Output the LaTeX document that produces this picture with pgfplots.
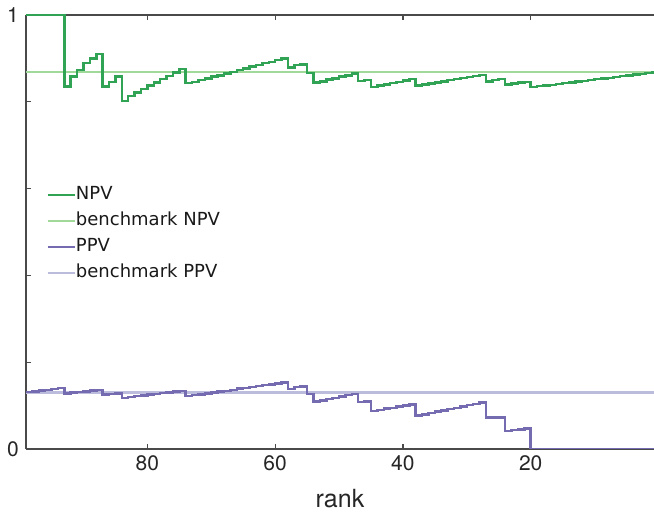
\documentclass[border=0pt]{standalone}
\usepackage{fontspec}
\setmainfont{TeX Gyre Heros}
\newfontfamily\legendfont{DejaVu Sans}
\usepackage{pgfplots}
\pgfplotsset{compat=1.18}

\definecolor{npv}{HTML}{31A354}
\definecolor{npvbench}{HTML}{A1D99B}
\definecolor{ppv}{HTML}{756BB1}
\definecolor{ppvbench}{HTML}{BCBDDC}
\definecolor{spine}{HTML}{4A4A4A}

\pgfplotsset{
  base/.style={
    scale only axis, width=314pt, height=217pt,
    xmin=0.7, xmax=99, ymin=0, ymax=1,
    x dir=reverse,
    tick align=inside,
    major tick length=2.5pt, minor tick length=2.5pt,
    axis line style={spine, line width=0.6pt},
    tick style={spine, line width=0.6pt},
    xtick={20,40,60,80},
    /pgf/number format/assume math mode=true,
    tick label style={font=\fontsize{10.5}{12}\selectfont, text=black!85},
  },
}

\begin{document}
\begin{tikzpicture}
% top spine with its ticks, drawn first so the curves lie over it
\begin{axis}[base, axis x line*=top, axis y line=none, xticklabels={}]
\end{axis}

\begin{axis}[base,
  axis x line*=bottom, axis y line*=left,
  ytick={0,1}, minor ytick={0.2,0.4,0.6,0.8},
  xlabel={rank},
  xlabel style={font=\fontsize{12.5}{14}\selectfont, text=black!85,
    at={(axis description cs:0.5,-0.092)}, anchor=north, inner sep=0pt},
  legend cell align=left,
  legend image code/.code={\draw[#1] (0pt,0pt) -- (13.5pt,0pt);},
  legend style={draw=none, fill=none, inner sep=0pt,
    at={(axis description cs:0.032,0.606)}, anchor=north west,
    font=\legendfont\fontsize{9}{10}\selectfont, text=black!90,
    row sep=4.6pt,
    nodes={inner sep=0pt, text height=6.6pt, text depth=1.8pt},
    /tikz/every even column/.append style={column sep=2.5pt}},
]

\addplot[npvbench, line width=1.2pt, forget plot] coordinates {(99,0.868) (0.7,0.868)};
\addplot[ppvbench, line width=1.2pt, forget plot] coordinates {(99,0.130) (0.7,0.130)};

\addplot[npv, line width=1.25pt, const plot, forget plot] coordinates {
(99,1.000) (93,0.835) (92,0.858) (91,0.873) (90,0.889) (89,0.900) (88,0.910)
(87,0.835) (86,0.846) (85,0.858)
(84,0.802) (83,0.813) (82,0.821) (81,0.830) (80,0.838) (79,0.845) (78,0.852) (77,0.859) (76,0.867) (75,0.875)
(74,0.843) (73,0.846) (72,0.850) (71,0.854) (70,0.858) (69,0.861) (68,0.865) (67,0.869) (66,0.873) (65,0.877)
(64,0.881) (63,0.885) (62,0.889) (61,0.892) (60,0.896) (59,0.900)
(58,0.879) (57,0.885) (56,0.886)
(55,0.866)
(54,0.844) (53,0.847) (52,0.851) (51,0.854) (50,0.858) (49,0.861) (48,0.865)
(47,0.848) (46,0.850)
(45,0.834) (44,0.837) (43,0.840) (42,0.843) (41,0.846) (40,0.849) (39,0.852)
(38,0.837) (37,0.840) (36,0.842) (35,0.845) (34,0.847) (33,0.850) (32,0.852) (31,0.855) (30,0.857) (29,0.860) (28,0.862)
(27,0.847) (26,0.850) (25,0.853)
(24,0.840) (23,0.842) (22,0.844) (21,0.846)
(20,0.834) (19,0.836) (18,0.838) (17,0.839) (16,0.841) (15,0.843) (14,0.845) (13,0.847) (12,0.848) (11,0.850)
(10,0.852) (9,0.854) (8,0.855) (7,0.857) (6,0.859) (5,0.861) (4,0.863) (3,0.864) (2,0.866) (1,0.868) (0.7,0.868)
};

\addplot[ppv, line width=1.25pt, const plot, forget plot] coordinates {
(99,0.131) (98,0.133) (97,0.135) (96,0.136) (95,0.138) (94,0.140)
(93,0.128) (92,0.130) (91,0.131) (90,0.133) (89,0.135) (88,0.136)
(87,0.126) (86,0.127) (85,0.128)
(84,0.118) (83,0.120) (82,0.122) (81,0.123) (80,0.125) (79,0.127) (78,0.129) (77,0.130) (76,0.132) (75,0.134)
(74,0.122) (73,0.124) (72,0.126) (71,0.128) (70,0.130) (69,0.132) (68,0.134) (67,0.136) (66,0.139) (65,0.141)
(64,0.143) (63,0.145) (62,0.147) (61,0.149) (60,0.151) (59,0.153)
(58,0.138) (57,0.143) (56,0.144)
(55,0.127)
(54,0.109) (53,0.112) (52,0.115) (51,0.118) (50,0.121) (49,0.124) (48,0.127)
(47,0.108) (46,0.109)
(45,0.088) (44,0.090) (43,0.093) (42,0.095) (41,0.098) (40,0.100) (39,0.103)
(38,0.077) (37,0.080) (36,0.083) (35,0.086) (34,0.089) (33,0.092) (32,0.095) (31,0.098) (30,0.101) (29,0.104) (28,0.107)
(27,0.073) (26,0.073) (25,0.073)
(24,0.042) (23,0.044) (22,0.045) (21,0.047)
(20,0) (0.7,0)
};

\addlegendimage{npv, line width=1.25pt}
\addlegendentry{NPV}
\addlegendimage{npvbench, line width=1.2pt}
\addlegendentry{benchmark NPV}
\addlegendimage{ppv, line width=1.25pt}
\addlegendentry{PPV}
\addlegendimage{ppvbench, line width=1.2pt}
\addlegendentry{benchmark PPV}
\end{axis}

\pgfresetboundingbox
\useasboundingbox ([xshift=-13pt,yshift=-32pt]current axis.south west)
  rectangle ([yshift=7.5pt]current axis.north east);
\end{tikzpicture}
\end{document}
